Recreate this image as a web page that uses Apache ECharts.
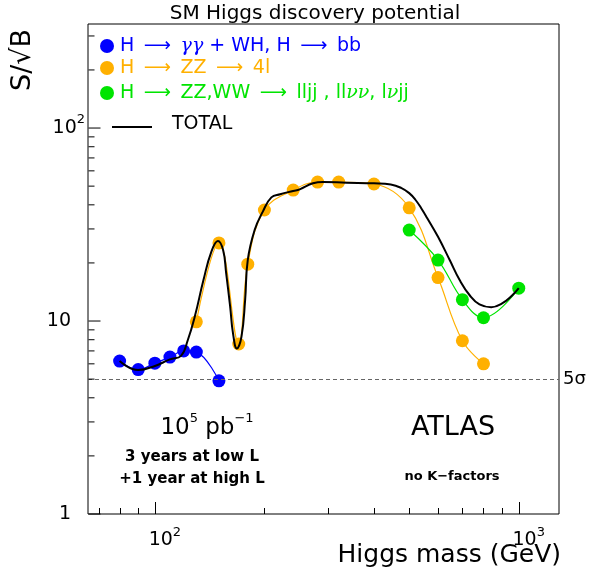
<!DOCTYPE html>
<html>
<head>
<meta charset="utf-8">
<script src="https://cdn.jsdelivr.net/npm/echarts@6/dist/echarts.min.js"></script>
<style>
html, body { margin: 0; padding: 0; background: #fff; }
#chart { width: 589px; height: 578px; }
</style>
</head>
<body>
<div id="chart"></div>
<script>
const FONT = "DejaVu Sans";
const BLUE = "#0000ff";
const ORANGE = "#ffb000";
const GREEN = "#00e400";

// axis ranges (log)
const xRange = [65.5, 1290];
const yRange = [1, 346];

// tick positions
const xMajorTicks = [100, 1000];
const xMinorTicks = [70, 80, 90, 200, 300, 400, 500, 600, 700, 800, 900];
const yMajorTicks = [1, 10, 100];
const yMinorTicks = [2, 3, 4, 5, 6, 7, 8, 9, 20, 30, 40, 50, 60, 70, 80, 90, 200, 300];

// H -> gamma gamma + WH, H -> bb
const blueMass = [80, 90, 100, 110, 120, 130, 150];
const blueSig = [6.2, 5.6, 6.05, 6.5, 7.0, 6.9, 4.9];

// H -> ZZ -> 4l
const orangeMass = [130, 150, 170, 180, 200, 240, 280, 320, 400, 500, 600, 700, 800];
const orangeSig = [9.9, 25.4, 7.6, 19.7, 37.6, 47.7, 52.5, 52.5, 51.3, 38.6, 16.8, 7.9, 6.0];

// H -> ZZ,WW -> lljj, llvv, lvjj
const greenMass = [500, 600, 700, 800, 1000];
const greenSig = [29.6, 20.7, 12.9, 10.4, 14.8];

// TOTAL curve
const totalMass = [80, 90, 100, 110, 118, 123, 129, 136, 143, 149, 154, 157, 161, 164, 168, 173, 177, 180, 188, 198, 209, 221, 240, 250, 272, 290, 336, 400, 445, 475, 500, 520, 540, 560, 600, 646, 688, 733, 780, 840, 900, 960, 1000];
const totalSig = [6.2, 5.57, 5.85, 6.33, 6.6, 7.9, 10.7, 16.3, 22.9, 26.0, 23.3, 17.7, 11.9, 8.6, 7.2, 8.3, 12.8, 20.7, 29.6, 36.9, 43.7, 45.4, 47.2, 48.1, 51.7, 52.5, 52.1, 51.7, 51.0, 49.0, 46.0, 42.5, 38.3, 34.2, 27.3, 20.7, 16.3, 13.6, 12.2, 11.8, 12.35, 13.6, 14.8];

const discoveryLevel = 5;

const zip = (xs, ys) => xs.map((x, i) => [x, ys[i]]);

const powerLabel = (v) => {
    const e = Math.round(Math.log10(v));
    if (Math.abs(Math.pow(10, e) - v) > 1e-6 * v) return "";
    return e;
};

const xRich = {
    b: { fontSize: 19, fontFamily: FONT, color: "#000", padding: [0, 0, 0, 20] },
    s: { fontSize: 13, fontFamily: FONT, color: "#000", padding: [0, 0, 16, 0] },
};
const yRich = {
    b: { fontSize: 19, fontFamily: FONT, color: "#000" },
    s: { fontSize: 13, fontFamily: FONT, color: "#000", padding: [0, 0, 16, 0] },
    p: { fontSize: 19, fontFamily: FONT, color: "#000", padding: [0, 14, 0, 0] },
};

const SP = "\u2002";

const chart = echarts.init(document.getElementById("chart"), null, { renderer: "canvas" });

const option = {
    animation: false,
    backgroundColor: "#fff",
    grid: {
        left: 88,
        right: 30,
        top: 24,
        bottom: 64,
        show: true,
        borderColor: "#000",
        borderWidth: 1,
    },
    xAxis: {
        type: "log",
        logBase: 10,
        min: xRange[0],
        max: xRange[1],
        axisLine: { show: false },
        axisTick: { show: false },
        splitLine: { show: false },
        axisLabel: {
            margin: 12,
            formatter: (v) => {
                const e = powerLabel(v);
                if (e === "") return "";
                return `{b|10}{s|${e}}`;
            },
            rich: xRich,
        },
    },
    yAxis: {
        type: "log",
        logBase: 10,
        min: yRange[0],
        max: yRange[1],
        axisLine: { show: false },
        axisTick: { show: false },
        splitLine: { show: false },
        axisLabel: {
            margin: 3,
            formatter: (v) => {
                const e = powerLabel(v);
                if (e === "") return "";
                if (e === 0) return "{p|1}";
                if (e === 1) return "{p|10}";
                return `{b|10}{s|${e}}`;
            },
            rich: yRich,
        },
    },
    graphic: [
        {
            type: "text", x: 315, y: 14,
            style: { text: "SM Higgs discovery potential", font: `20px ${FONT}`, fill: "#000", align: "center", verticalAlign: "middle" },
        },
        {
            type: "text", x: 23, y: 60, rotation: Math.PI / 2,
            style: { text: "S/√B", font: `27px ${FONT}`, fill: "#000", align: "center", verticalAlign: "middle" },
        },
        {
            type: "text", x: 561, y: 555,
            style: { text: "Higgs mass (GeV)", font: `25px ${FONT}`, fill: "#000", align: "right", verticalAlign: "middle" },
        },
        // legend
        { type: "circle", shape: { cx: 107, cy: 46, r: 7 }, style: { fill: BLUE } },
        {
            type: "text", x: 120, y: 46,
            style: {
                text: `H${SP}⟶${SP}{g|γγ} + WH, H${SP}⟶${SP}bb`,
                font: `19px ${FONT}`, fill: BLUE, verticalAlign: "middle",
                rich: { g: { fontFamily: "DejaVu Serif", fontStyle: "italic", fontSize: 19, fill: BLUE } },
            },
        },
        { type: "circle", shape: { cx: 107, cy: 68, r: 7 }, style: { fill: ORANGE } },
        {
            type: "text", x: 120, y: 68,
            style: { text: `H${SP}⟶${SP}ZZ${SP}⟶${SP}4l`, font: `19px ${FONT}`, fill: ORANGE, verticalAlign: "middle" },
        },
        { type: "circle", shape: { cx: 107, cy: 93, r: 7 }, style: { fill: GREEN } },
        {
            type: "text", x: 120, y: 93,
            style: {
                text: `H${SP}⟶${SP}ZZ,WW${SP}⟶${SP}lljj , ll{g|νν}, l{g|ν}jj`,
                font: `19px ${FONT}`, fill: GREEN, verticalAlign: "middle",
                rich: { g: { fontFamily: "DejaVu Serif", fontStyle: "italic", fontSize: 19, fill: GREEN } },
            },
        },
        { type: "line", shape: { x1: 112, y1: 127, x2: 152, y2: 127 }, style: { stroke: "#000", lineWidth: 2 } },
        {
            type: "text", x: 172, y: 124,
            style: { text: "TOTAL", font: `19px ${FONT}`, fill: "#000", verticalAlign: "middle" },
        },
        // annotations
        {
            type: "text", x: 207, y: 428,
            style: {
                text: "{b|10}{s|5}{b| pb}{s|−1}",
                align: "center", verticalAlign: "middle",
                rich: {
                    b: { fontSize: 23, fontFamily: FONT, fill: "#000" },
                    s: { fontSize: 13, fontFamily: FONT, fill: "#000", padding: [0, 0, 18, 0] },
                },
            },
        },
        {
            type: "text", x: 192, y: 457,
            style: { text: "3 years at low L", font: `bold 15px ${FONT}`, fill: "#000", align: "center", verticalAlign: "middle" },
        },
        {
            type: "text", x: 192, y: 479,
            style: { text: "+1 year at high L", font: `bold 15px ${FONT}`, fill: "#000", align: "center", verticalAlign: "middle" },
        },
        {
            type: "text", x: 453, y: 428,
            style: { text: "ATLAS", font: `27px ${FONT}`, fill: "#000", align: "center", verticalAlign: "middle" },
        },
        {
            type: "text", x: 452, y: 477,
            style: { text: "no K−factors", font: `bold 13px ${FONT}`, fill: "#000", align: "center", verticalAlign: "middle" },
        },
    ],
    series: [
        {
            name: "H → ZZ → 4l",
            type: "line",
            data: zip(orangeMass, orangeSig),
            smooth: 0.4,
            symbol: "circle",
            symbolSize: 13,
            itemStyle: { color: ORANGE },
            lineStyle: { color: ORANGE, width: 1.2 },
            z: 2,
        },
        {
            name: "H → γγ + WH, H → bb",
            type: "line",
            data: zip(blueMass, blueSig),
            smooth: 0.4,
            symbol: "circle",
            symbolSize: 13,
            itemStyle: { color: BLUE },
            lineStyle: { color: BLUE, width: 1.2 },
            z: 2,
            markLine: {
                silent: true,
                symbol: "none",
                lineStyle: { color: "#666", type: [4, 3], width: 1 },
                label: {
                    show: true,
                    position: "end",
                    distance: 4,
                    formatter: "5σ",
                    color: "#000",
                    fontSize: 18,
                    fontFamily: FONT,
                },
                data: [{ yAxis: discoveryLevel }],
            },
        },
        {
            name: "H → ZZ,WW → lljj, llνν, lνjj",
            type: "line",
            data: zip(greenMass, greenSig),
            smooth: 0.4,
            symbol: "circle",
            symbolSize: 13,
            itemStyle: { color: GREEN },
            lineStyle: { color: GREEN, width: 1.2 },
            z: 2,
        },
        {
            name: "TOTAL",
            type: "line",
            data: zip(totalMass, totalSig),
            smooth: 0.45,
            showSymbol: false,
            lineStyle: { color: "#000", width: 2 },
            z: 5,
        },
    ],
};

chart.setOption(option);

// inward ticks on the bottom and left edges, placed through the axis scales
const tickLines = [];
const addTick = (value, isX, major) => {
    const len = major ? 12 : 6;
    const p = chart.convertToPixel({ gridIndex: 0 }, isX ? [value, yRange[0]] : [xRange[0], value]);
    const end = isX ? [p[0], p[1] - len] : [p[0] + len, p[1]];
    tickLines.push({
        id: `tick_${isX ? "x" : "y"}_${value}`,
        type: "line",
        z: 10,
        shape: { x1: Math.round(p[0]) + 0.5, y1: p[1], x2: Math.round(end[0]) + 0.5, y2: end[1] },
        style: { stroke: "#000", lineWidth: 1 },
    });
};
xMajorTicks.forEach(v => addTick(v, true, true));
xMinorTicks.forEach(v => addTick(v, true, false));
yMajorTicks.forEach(v => addTick(v, false, true));
yMinorTicks.forEach(v => addTick(v, false, false));

chart.setOption({ graphic: { elements: tickLines } });
</script>
</body>
</html>
